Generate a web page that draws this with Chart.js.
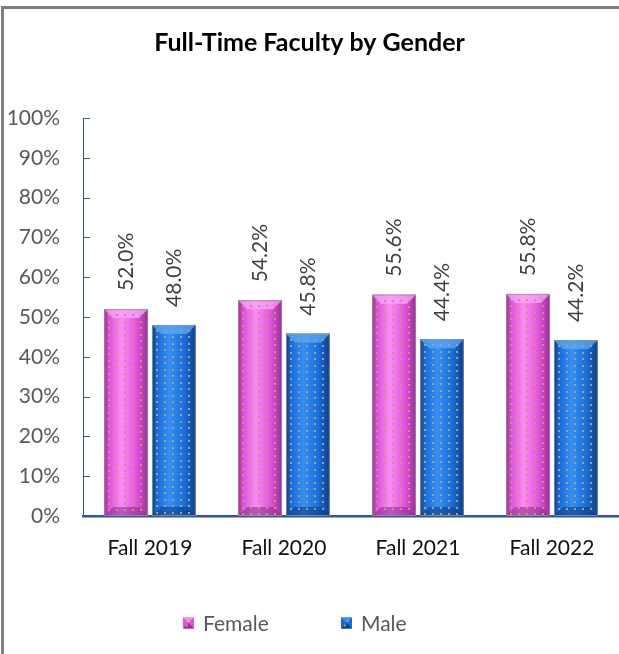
<!DOCTYPE html>
<html>
<head>
<meta charset="utf-8">
<script src="https://cdn.jsdelivr.net/npm/chart.js@4/dist/chart.umd.min.js"></script>
<style>
  html, body { margin: 0; padding: 0; background: #fff; }
  #wrap { width: 619px; height: 654px; }
</style>
</head>
<body>
<div id="wrap"><canvas id="faculty"></canvas></div>
<script>
const terms = ["Fall 2019", "Fall 2020", "Fall 2021", "Fall 2022"];
const female = [52.0, 54.2, 55.6, 55.8];
const male = [48.0, 45.8, 44.4, 44.2];
const yTicks = [0, 10, 20, 30, 40, 50, 60, 70, 80, 90, 100];

const FONT = "Lato, 'DejaVu Sans', sans-serif";
const AXIS_BLUE = "#2E55A6";

// shading for each series: dark edge, body, highlight, dot colour
const palette = [
  { dark: "#9A2C9A", body: "#DE52DE", light: "#F98CF9", cap: "#FBA6FB", base: "#8E2A8E", dot: "#D2984A" },
  { dark: "#0B3F8C", body: "#176CDC", light: "#3290F8", cap: "#5AA8FA", base: "#0A3A80", dot: "#B0A058" }
];

function shadeBar(ctx, el, p) {
  const w = el.width, x0 = el.x - w / 2, x1 = el.x + w / 2;
  const top = el.y, bot = el.base, b = 9;
  ctx.save();
  const g = ctx.createLinearGradient(x0, 0, x1, 0);
  g.addColorStop(0, p.dark);
  g.addColorStop(0.12, p.body);
  g.addColorStop(0.4, p.light);
  g.addColorStop(0.75, p.body);
  g.addColorStop(1, p.dark);
  ctx.fillStyle = g;
  ctx.fillRect(x0, top, w, bot - top);

  // chamfered cap on top
  ctx.beginPath();
  ctx.moveTo(x0, top); ctx.lineTo(x1, top);
  ctx.lineTo(x1 - b, top + b); ctx.lineTo(x0 + b, top + b);
  ctx.closePath();
  ctx.globalAlpha = 0.75;
  ctx.fillStyle = p.cap;
  ctx.fill();

  // darker chamfer at the foot
  ctx.beginPath();
  ctx.moveTo(x0, bot); ctx.lineTo(x1, bot);
  ctx.lineTo(x1 - b, bot - b); ctx.lineTo(x0 + b, bot - b);
  ctx.closePath();
  ctx.globalAlpha = 0.55;
  ctx.fillStyle = p.base;
  ctx.fill();
  ctx.globalAlpha = 1;

  // dotted texture
  ctx.fillStyle = p.dot;
  for (let yy = top + 5; yy < bot - 2; yy += 6.5) {
    for (let xx = x0 + 4; xx < x1 - 2; xx += 8) {
      ctx.fillRect(Math.round(xx), Math.round(yy), 2, 2);
    }
  }

  ctx.strokeStyle = "rgba(150,150,150,0.8)";
  ctx.lineWidth = 1;
  ctx.strokeRect(x0 + 0.5, top + 0.5, w - 1, bot - top - 1);
  ctx.restore();
}

const barLook = {
  id: "barLook",
  beforeDraw(chart) {
    const ctx = chart.ctx;
    ctx.save();
    ctx.fillStyle = "#fff";
    ctx.fillRect(0, 0, chart.width, chart.height);
    ctx.strokeStyle = "#7d7f82";
    ctx.lineWidth = 3;
    ctx.beginPath();
    ctx.moveTo(2.5, chart.height);
    ctx.lineTo(2.5, 7.5);
    ctx.lineTo(chart.width, 7.5);
    ctx.stroke();
    ctx.restore();
  },
  afterDatasetsDraw(chart) {
    const ctx = chart.ctx;
    chart.data.datasets.forEach((ds, i) => {
      chart.getDatasetMeta(i).data.forEach((el, j) => {
        shadeBar(ctx, el, palette[i]);
        // rotated value label above the bar
        ctx.save();
        ctx.translate(el.x, el.y - 18);
        ctx.rotate(-Math.PI / 2);
        ctx.font = "21px " + FONT;
        ctx.fillStyle = "#404040";
        ctx.textAlign = "left";
        ctx.textBaseline = "middle";
        ctx.fillText(ds.data[j].toFixed(1) + "%", 0, 0);
        ctx.restore();
      });
    });
  },
  afterDraw(chart) {
    const ctx = chart.ctx;
    const y = chart.scales.y;
    const left = chart.chartArea.left;
    // short tick marks pointing into the plot
    ctx.save();
    ctx.strokeStyle = AXIS_BLUE;
    ctx.lineWidth = 1;
    y.ticks.forEach(t => {
      const py = Math.round(y.getPixelForValue(t.value)) + 0.5;
      ctx.beginPath();
      ctx.moveTo(left, py);
      ctx.lineTo(left + 7, py);
      ctx.stroke();
    });

    // legend row
    const items = chart.data.datasets.map((ds, i) => ({ text: ds.label, p: palette[i] }));
    const starts = [183, 341];
    const cy = 623;
    ctx.font = "21px " + FONT;
    ctx.textBaseline = "middle";
    ctx.textAlign = "left";
    items.forEach((it, i) => {
      const bx = starts[i], s = 11, by = cy - s / 2;
      ctx.fillStyle = it.p.body;
      ctx.fillRect(bx, by, s, s);
      ctx.beginPath();
      ctx.moveTo(bx, by); ctx.lineTo(bx + s, by); ctx.lineTo(bx + s / 2, by + s / 2); ctx.closePath();
      ctx.fillStyle = it.p.light; ctx.fill();
      ctx.beginPath();
      ctx.moveTo(bx, by + s); ctx.lineTo(bx + s, by + s); ctx.lineTo(bx + s / 2, by + s / 2); ctx.closePath();
      ctx.fillStyle = it.p.dark; ctx.fill();
      ctx.fillStyle = it.p.dot;
      ctx.fillRect(bx + 6, by + 2, 2, 2);
      ctx.fillRect(bx + 3, by + 7, 2, 2);
      ctx.fillStyle = "#595959";
      ctx.fillText(it.text, bx + 20, cy + 1);
    });
    ctx.restore();
  }
};

new Chart(document.getElementById("faculty"), {
  type: "bar",
  data: {
    labels: terms,
    datasets: [
      { label: "Female", data: female, backgroundColor: palette[0].body },
      { label: "Male", data: male, backgroundColor: palette[1].body }
    ]
  },
  options: {
    responsive: true,
    maintainAspectRatio: false,
    animation: false,
    devicePixelRatio: 1,
    categoryPercentage: 0.714,
    barPercentage: 0.917,
    layout: { padding: { top: 0, left: 0, right: 0, bottom: 78 } },
    plugins: {
      legend: { display: false },
      tooltip: { enabled: false },
      title: {
        display: true,
        text: "Full-Time Faculty by Gender",
        color: "#000",
        font: { family: FONT, size: 25, weight: "bold" },
        padding: { top: 28, bottom: 60 }
      }
    },
    scales: {
      x: {
        grid: { display: false, drawTicks: false },
        border: { display: true, color: AXIS_BLUE, width: 2.5 },
        ticks: { color: "#111", padding: 20, font: { family: FONT, size: 21 } },
        afterFit(s) { s.height = 60; }
      },
      y: {
        min: 0,
        max: 100,
        afterBuildTicks(s) { s.ticks = yTicks.map(v => ({ value: v })); },
        grid: { display: false, drawTicks: false },
        border: { display: true, color: AXIS_BLUE, width: 1 },
        ticks: {
          color: "#595959",
          padding: 23,
          font: { family: FONT, size: 21 },
          callback: v => v + "%"
        },
        afterFit(s) { s.width = 83; }
      }
    }
  },
  plugins: [barLook]
});
</script>
</body>
</html>
